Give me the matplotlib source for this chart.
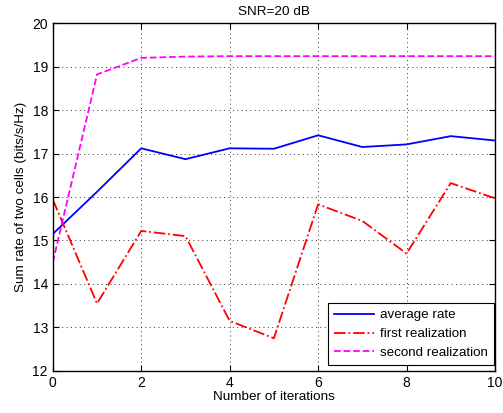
import numpy as np
import matplotlib
matplotlib.use('Agg')
import matplotlib.pyplot as plt

plt.rcParams['font.family'] = ['Liberation Sans', 'DejaVu Sans']
plt.rcParams['font.size'] = 9.7

iterations = np.arange(0, 11)
average_rate = [15.15, 16.12, 17.12, 16.87, 17.12, 17.11, 17.42, 17.15, 17.21, 17.40, 17.30]
first_realization = [15.94, 13.55, 15.22, 15.10, 13.15, 12.75, 15.83, 15.45, 14.70, 16.32, 15.97]
second_realization = [14.50, 18.82, 19.20, 19.23, 19.24, 19.24, 19.24, 19.24, 19.24, 19.24, 19.24]

fig = plt.figure(figsize=(5.03, 4.13), dpi=100)
ax = fig.add_axes([0.105, 0.102, 0.879, 0.842])

ax.plot(iterations, average_rate, color='#0000ff', linestyle='-', linewidth=1.3, label='average rate')
ax.plot(iterations, first_realization, color='#ff0000', linestyle='-.', linewidth=1.3, label='first realization')
ax.plot(iterations, second_realization, color='#ff00ff', linestyle='--', linewidth=1.3, label='second realization')

ax.set_xlim(0, 10)
ax.set_ylim(12, 20)
ax.set_xticks(np.arange(0, 11, 2))
ax.set_yticks(np.arange(12, 21, 1))
ax.grid(True, color='k', linestyle=(0, (1, 3.5)), linewidth=0.7, alpha=0.8)
ax.tick_params(direction='in', top=True, right=True, length=4, width=0.8, labelsize=10)
for s in ax.spines.values():
    s.set_linewidth(1.0)

ax.set_title('SNR=20 dB', fontsize=9.7, pad=6)
ax.set_xlabel('Number of iterations', labelpad=1)
ax.set_ylabel('Sum rate of two cells (bits/s/Hz)', labelpad=4)

leg = ax.legend(loc='lower right', bbox_to_anchor=(0.998, 0.017), fancybox=False, edgecolor='k',
                framealpha=1, handlelength=3.0, borderaxespad=0.0, labelspacing=0.48,
                borderpad=0.45, handletextpad=0.5, fontsize=9.6)
leg.get_frame().set_linewidth(0.8)

fig.savefig('out.png', dpi=100)
